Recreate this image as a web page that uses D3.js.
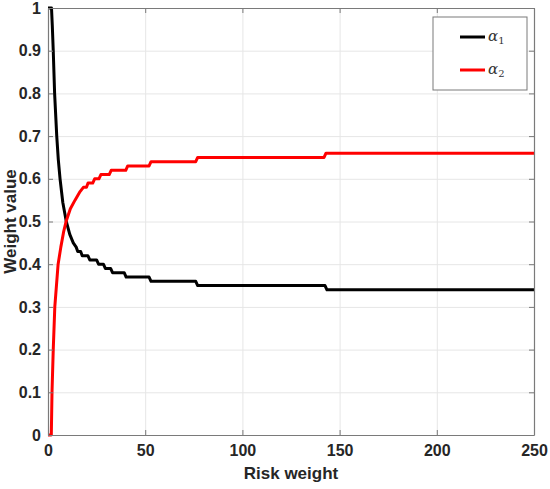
<!DOCTYPE html>
<html>
<head>
<meta charset="utf-8">
<script src="https://cdn.jsdelivr.net/npm/d3@7"></script>
<style>
  html, body { margin: 0; padding: 0; background: #fff; }
  svg text { font-family: "Liberation Sans", Arial, sans-serif; }
</style>
</head>
<body>
<svg id="chart"></svg>
<script>
"use strict";

// risk weight breakpoints and weight values
var alpha1X = [0, 1.8, 2.2, 2.7, 3.4, 4.5, 5.3, 6.2, 7.6, 9.4, 11.2, 13, 14.5, 15.3, 16.8, 17.6, 20.5, 21.5, 25, 26, 28.5, 29.5, 32.2, 33.2, 39.2, 40.2, 52, 53, 76, 77, 142.5, 143.5, 250];
var alpha1Y = [1, 1, 0.96, 0.9, 0.8, 0.7, 0.645, 0.6, 0.545, 0.5, 0.47, 0.45, 0.44, 0.43, 0.43, 0.42, 0.42, 0.41, 0.41, 0.40, 0.40, 0.39, 0.39, 0.38, 0.38, 0.37, 0.37, 0.36, 0.36, 0.35, 0.35, 0.34, 0.34];

var alpha2X = [0, 1.7, 2.06, 2.7, 3.5, 5.2, 6.6, 8, 9.3, 11.5, 13.9, 16.5, 18.2, 19.8, 20.6, 23, 24, 26.2, 27.2, 31.5, 32.5, 40, 41, 52, 53, 76, 77, 142, 143, 250];
var alpha2Y = [0, 0, 0.1, 0.2, 0.3, 0.4, 0.44, 0.475, 0.5, 0.53, 0.55, 0.57, 0.58, 0.58, 0.59, 0.59, 0.60, 0.60, 0.61, 0.61, 0.62, 0.62, 0.63, 0.63, 0.64, 0.64, 0.65, 0.65, 0.66, 0.66];

var xTicks = [0, 50, 100, 150, 200, 250];
var yTicks = [0, 0.1, 0.2, 0.3, 0.4, 0.5, 0.6, 0.7, 0.8, 0.9, 1];

var seriesNames = ["1", "2"];
var seriesColors = ["#000000", "#ff0000"];

var W = 550, H = 489;
var margin = { left: 48, right: 16, top: 8, bottom: 54 };
var iw = W - margin.left - margin.right;
var ih = H - margin.top - margin.bottom;

var svg = d3.select("#chart").attr("width", W).attr("height", H);
var g = svg.append("g").attr("transform", "translate(" + margin.left + "," + margin.top + ")");

var x = d3.scaleLinear().domain([0, 250]).range([0, iw]);
var y = d3.scaleLinear().domain([0, 1]).range([ih, 0]);

// grid
g.append("g")
  .attr("transform", "translate(0," + ih + ")")
  .call(d3.axisBottom(x).tickValues(xTicks).tickSize(-ih).tickFormat(""))
  .call(function (s) { s.select(".domain").remove(); })
  .selectAll("line").attr("stroke", "#e6e6e6");
g.append("g")
  .call(d3.axisLeft(y).tickValues(yTicks).tickSize(-iw).tickFormat(""))
  .call(function (s) { s.select(".domain").remove(); })
  .selectAll("line").attr("stroke", "#e6e6e6");

// lines
var line = d3.line()
  .x(function (d) { return x(d[0]); })
  .y(function (d) { return y(d[1]); });

var series = [
  d3.zip(alpha1X, alpha1Y),
  d3.zip(alpha2X, alpha2Y)
];

series.forEach(function (pts, i) {
  g.append("path")
    .datum(pts)
    .attr("fill", "none")
    .attr("stroke", seriesColors[i])
    .attr("stroke-width", 3)
    .attr("stroke-linejoin", "round")
    .attr("d", line);
});

// axes, ticks pointing inward like matlab box
var axisColor = "#7a7a7a";
function styleAxis(s) {
  s.select(".domain").attr("stroke", axisColor).attr("stroke-width", 1.2);
  s.selectAll(".tick line").attr("stroke", axisColor);
  s.selectAll("text")
    .attr("fill", "#262626")
    .style("font-size", "16px")
    .style("font-weight", "bold");
}

g.append("g")
  .attr("transform", "translate(0," + ih + ")")
  .call(d3.axisBottom(x).tickValues(xTicks).tickSizeInner(-5).tickSizeOuter(0).tickPadding(10).tickFormat(d3.format("d")))
  .call(styleAxis);
g.append("g")
  .call(d3.axisLeft(y).tickValues(yTicks).tickSizeInner(-5).tickSizeOuter(0).tickPadding(7).tickFormat(function (d) { return d3.format("")(+d.toFixed(1)); }))
  .call(styleAxis);
g.append("g")
  .call(d3.axisTop(x).tickValues(xTicks).tickSizeInner(-5).tickSizeOuter(0).tickFormat(""))
  .call(styleAxis);
g.append("g")
  .attr("transform", "translate(" + iw + ",0)")
  .call(d3.axisRight(y).tickValues(yTicks).tickSizeInner(-5).tickSizeOuter(0).tickFormat(""))
  .call(styleAxis);

// axis titles
svg.append("text")
  .attr("x", margin.left + iw / 2)
  .attr("y", 479)
  .attr("text-anchor", "middle")
  .attr("fill", "#262626")
  .style("font-size", "17px")
  .style("font-weight", "bold")
  .text("Risk weight");

svg.append("text")
  .attr("transform", "translate(16," + (margin.top + ih / 2) + ") rotate(-90)")
  .attr("text-anchor", "middle")
  .attr("fill", "#262626")
  .style("font-size", "17px")
  .style("font-weight", "bold")
  .text("Weight value");

// legend
var legend = svg.append("g").attr("transform", "translate(433,17)");
legend.append("rect")
  .attr("width", 94).attr("height", 73)
  .attr("fill", "#fff")
  .attr("stroke", "#7a7a7a")
  .attr("stroke-width", 1);

seriesNames.forEach(function (name, i) {
  var ly = 20 + i * 33;
  legend.append("line")
    .attr("x1", 27).attr("x2", 52)
    .attr("y1", ly).attr("y2", ly)
    .attr("stroke", seriesColors[i])
    .attr("stroke-width", 3);
  var t = legend.append("text")
    .attr("x", 55).attr("y", ly + 4)
    .attr("fill", "#333")
    .style("font-family", "'DejaVu Serif', serif")
    .style("font-size", "15px");
  t.append("tspan").style("font-style", "italic").text("α");
  t.append("tspan").attr("dy", 3).style("font-size", "10px").text(name);
});
</script>
</body>
</html>
